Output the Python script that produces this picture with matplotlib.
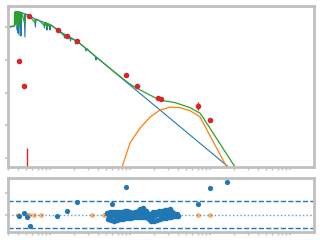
import numpy as np
import matplotlib
matplotlib.use('Agg')  # no display
import matplotlib.pyplot as plt
from matplotlib.ticker import NullLocator, MultipleLocator

# --- data (log10 wavelength [um], log10 flux) ---
# stellar photosphere model, with absorption lines
star_logw = [-0.525, -0.4875, -0.4625, -0.4425, -0.4375, -0.425, -0.4175, -0.41, -0.405, -0.40,
             -0.3963, -0.3875, -0.3813, -0.3688, -0.3625, -0.3563, -0.3213, -0.3138, -0.3063, -0.2588,
             -0.19, -0.1825, -0.175, -0.125, -0.075, -0.0688, -0.0625, -0.0438, -0.0375, -0.0313,
             -0.0063, 0.0, 0.0063, 0.0375, 0.0963, 0.175, 0.1813, 0.1875, 0.25, 0.2563,
             0.2625, 0.3125, 0.3188, 0.325, 0.3413, 0.4375, 0.45, 0.4625, 0.5, 0.5688,
             0.575, 0.5813, 0.625, 1.0, 1.375, 1.875, 2.375]
star_logf = [-11.015, -11.0, -10.985, -10.969, -10.542, -10.527, -10.542, -11.092, -10.542, -11.183,
             -10.542, -11.244, -10.542, -10.551, -11.275, -10.557, -10.597, -11.305, -10.603, -10.664,
             -10.75, -11.0, -10.762, -10.817, -10.856, -11.031, -10.863, -10.878, -11.092, -10.890,
             -10.924, -11.092, -10.933, -10.985, -11.092, -11.214, -11.336, -11.223, -11.33, -11.427,
             -11.345, -11.406, -11.519, -11.421, -11.437, -11.632, -11.733, -11.66, -11.757, -11.898,
             -12.008, -11.922, -12.011, -12.771, -13.531, -14.545, -15.559]

# dust blackbody
dust_logw = [0.85, 0.9, 1.0, 1.125, 1.25, 1.375, 1.5, 1.625, 1.75, 1.875, 2.2088, 2.275]
dust_logf = [-15.672, -15.275, -14.542, -14.084, -13.748, -13.534, -13.443, -13.458, -13.550, -13.739,
             -15.266, -15.580]

# total model
total_logw = [-0.525, -0.4625, -0.445, -0.4425, -0.4388, -0.435, -0.4313, -0.4275, -0.4225, -0.4175,
              -0.41, -0.405, -0.40, -0.3963, -0.3875, -0.3813, -0.3625, -0.3563, -0.3138, -0.3063,
              -0.2588, -0.1825, -0.175, -0.125, -0.0688, -0.0625, -0.05, -0.0438, -0.0375, -0.0313,
              -0.0188, -0.0125, 0.0, 0.0063, 0.0963, 0.1813, 0.1875, 0.3413, 0.5, 0.625,
              0.75, 0.875, 1.0, 1.0838, 1.25, 1.375, 1.5625, 1.75, 1.875, 1.9163,
              2.3125, 2.375]
total_logf = [-11.0, -10.969, -10.969, -10.573, -10.939, -10.542, -10.908, -10.527, -10.847, -10.527,
              -10.908, -10.527, -10.969, -10.542, -11.0, -10.542, -10.786, -10.557, -10.908, -10.603,
              -10.664, -10.878, -10.762, -10.817, -10.969, -10.863, -10.954, -10.878, -11.0, -10.890,
              -10.969, -10.908, -11.0, -10.933, -11.092, -11.275, -11.223, -11.437, -11.757, -12.011,
              -12.261, -12.508, -12.740, -12.863, -13.076, -13.229, -13.305, -13.458, -13.626, -13.769,
              -15.266, -15.504]

# photometry
phot_logw = [-0.384, -0.321, -0.259, 0.096, 0.216, 0.341, 0.95, 1.084, 1.354, 1.384, 1.854, 2.0, -0.291]
phot_logf = [-12.04, -12.80, -10.66, -11.10, -11.27, -11.44, -12.47, -12.80, -13.15, -13.21, -13.42, -13.85, -15.8]
phot_err_lo = [0.02, 0.02, 0.02, 0.02, 0.02, 0.02, 0.02, 0.02, 0.04, 0.04, 0.12, 0.03, 0.3]
phot_err_hi = [0.02, 0.02, 0.02, 0.02, 0.02, 0.02, 0.02, 0.02, 0.04, 0.04, 0.12, 0.03, 1.11]

# residuals: photometry
res_logw = [-0.384, -0.321, -0.291, -0.254, 0.091, 0.216, 0.341, 0.779, 0.95, 1.854, 2.0, 2.216]
res_val = [-0.05, 0.09, -0.09, -0.5, -0.05, 0.17, 0.58, 0.49, 1.26, 0.5, 1.21, 1.51]
# points not used in the fit
excl_logw = [-0.396, -0.291, -0.259, -0.196, -0.1125, 0.529, 0.671, 1.854, 2.0]
excl_val = [0, 0, 0, 0, 0, 0, 0, 0, 0]
# residuals: IR spectrum
irs_res = [0.08, -0.18, -0.05, 0.12, -0.22, 0.0, 0.14, -0.26, -0.06, 0.14,
           -0.22, 0.02, 0.14, -0.18, 0.0, 0.15, -0.16, 0.03, 0.17, -0.14,
           0.18, -0.02, -0.13, 0.15, -0.12, 0.0, 0.11, -0.11, 0.12, 0.0,
           -0.1, 0.2, -0.08, 0.29, 0.05, -0.09, 0.33, 0.15, -0.1, 0.18,
           0.11, -0.12, -0.2, 0.03, -0.26, -0.1, 0.14, -0.26, 0.0, 0.15,
           -0.22, 0.05, 0.17, -0.18, 0.0, 0.2, -0.15, 0.05, 0.22, -0.12,
           0.23, 0.05, -0.1, 0.29, -0.07, 0.12, 0.11, -0.03, 0.05, -0.04,
           0.03, -0.05]
irs_logw = np.linspace(0.7125, 1.6, len(irs_res))
band_hi, band_lo = 0.62, -0.60

SPINE = '#c0c0c0'


def style_axes(ax):
    for s in ax.spines.values():
        s.set_color(SPINE)
        s.set_linewidth(2.0)
    ax.tick_params(which='both', colors=SPINE, labelleft=False, labelbottom=False)
    ax.tick_params(which='major', length=2.5, width=1.2)
    ax.tick_params(which='minor', length=1.8, width=1.0)


fig = plt.figure(figsize=(3.2, 2.4), dpi=100)
ax = fig.add_axes([0.025, 0.304, 0.956, 0.671])
axr = fig.add_axes([0.025, 0.0333, 0.956, 0.225])

p = lambda a: 10 ** np.asarray(a)

ax.plot(p(star_logw), p(star_logf), color='C0', lw=0.8)
ax.plot(p(dust_logw), p(dust_logf), color='C1', lw=0.9)
ax.plot(p(total_logw), p(total_logf), color='C2', lw=0.9)

f = np.asarray(phot_logf)
yerr = [p(f) - p(f - np.asarray(phot_err_lo)), p(f + np.asarray(phot_err_hi)) - p(f)]
ax.errorbar(p(phot_logw), p(phot_logf), yerr=yerr, fmt='o', color='C3', ms=3.0, elinewidth=1.0, capsize=0)

ax.set_xscale('log')
ax.set_yscale('log')
ax.set_xlim(10 ** -0.525, 10 ** 3.3)
ax.set_ylim(10 ** -15.27, 10 ** -10.36)
ax.yaxis.set_minor_locator(NullLocator())
style_axes(ax)

# residual panel
axr.axhline(band_hi, color='C0', ls='--', lw=1.0)
axr.axhline(band_lo, color='C0', ls='--', lw=1.0)
axr.axhline(0, color='C0', ls=':', lw=1.0, alpha=0.7)
axr.scatter(p(excl_logw), excl_val, s=13, color='C1', alpha=0.6, lw=0)
axr.scatter(p(irs_logw), irs_res, s=16, color='C0', lw=0)
axr.scatter(p(res_logw), res_val, s=14, color='C0', lw=0)
axr.set_xscale('log')
axr.set_xlim(10 ** -0.525, 10 ** 3.3)
axr.set_ylim(-0.77, 1.68)
axr.yaxis.set_major_locator(MultipleLocator(1))
style_axes(axr)

fig.savefig('out.png', dpi=100)
